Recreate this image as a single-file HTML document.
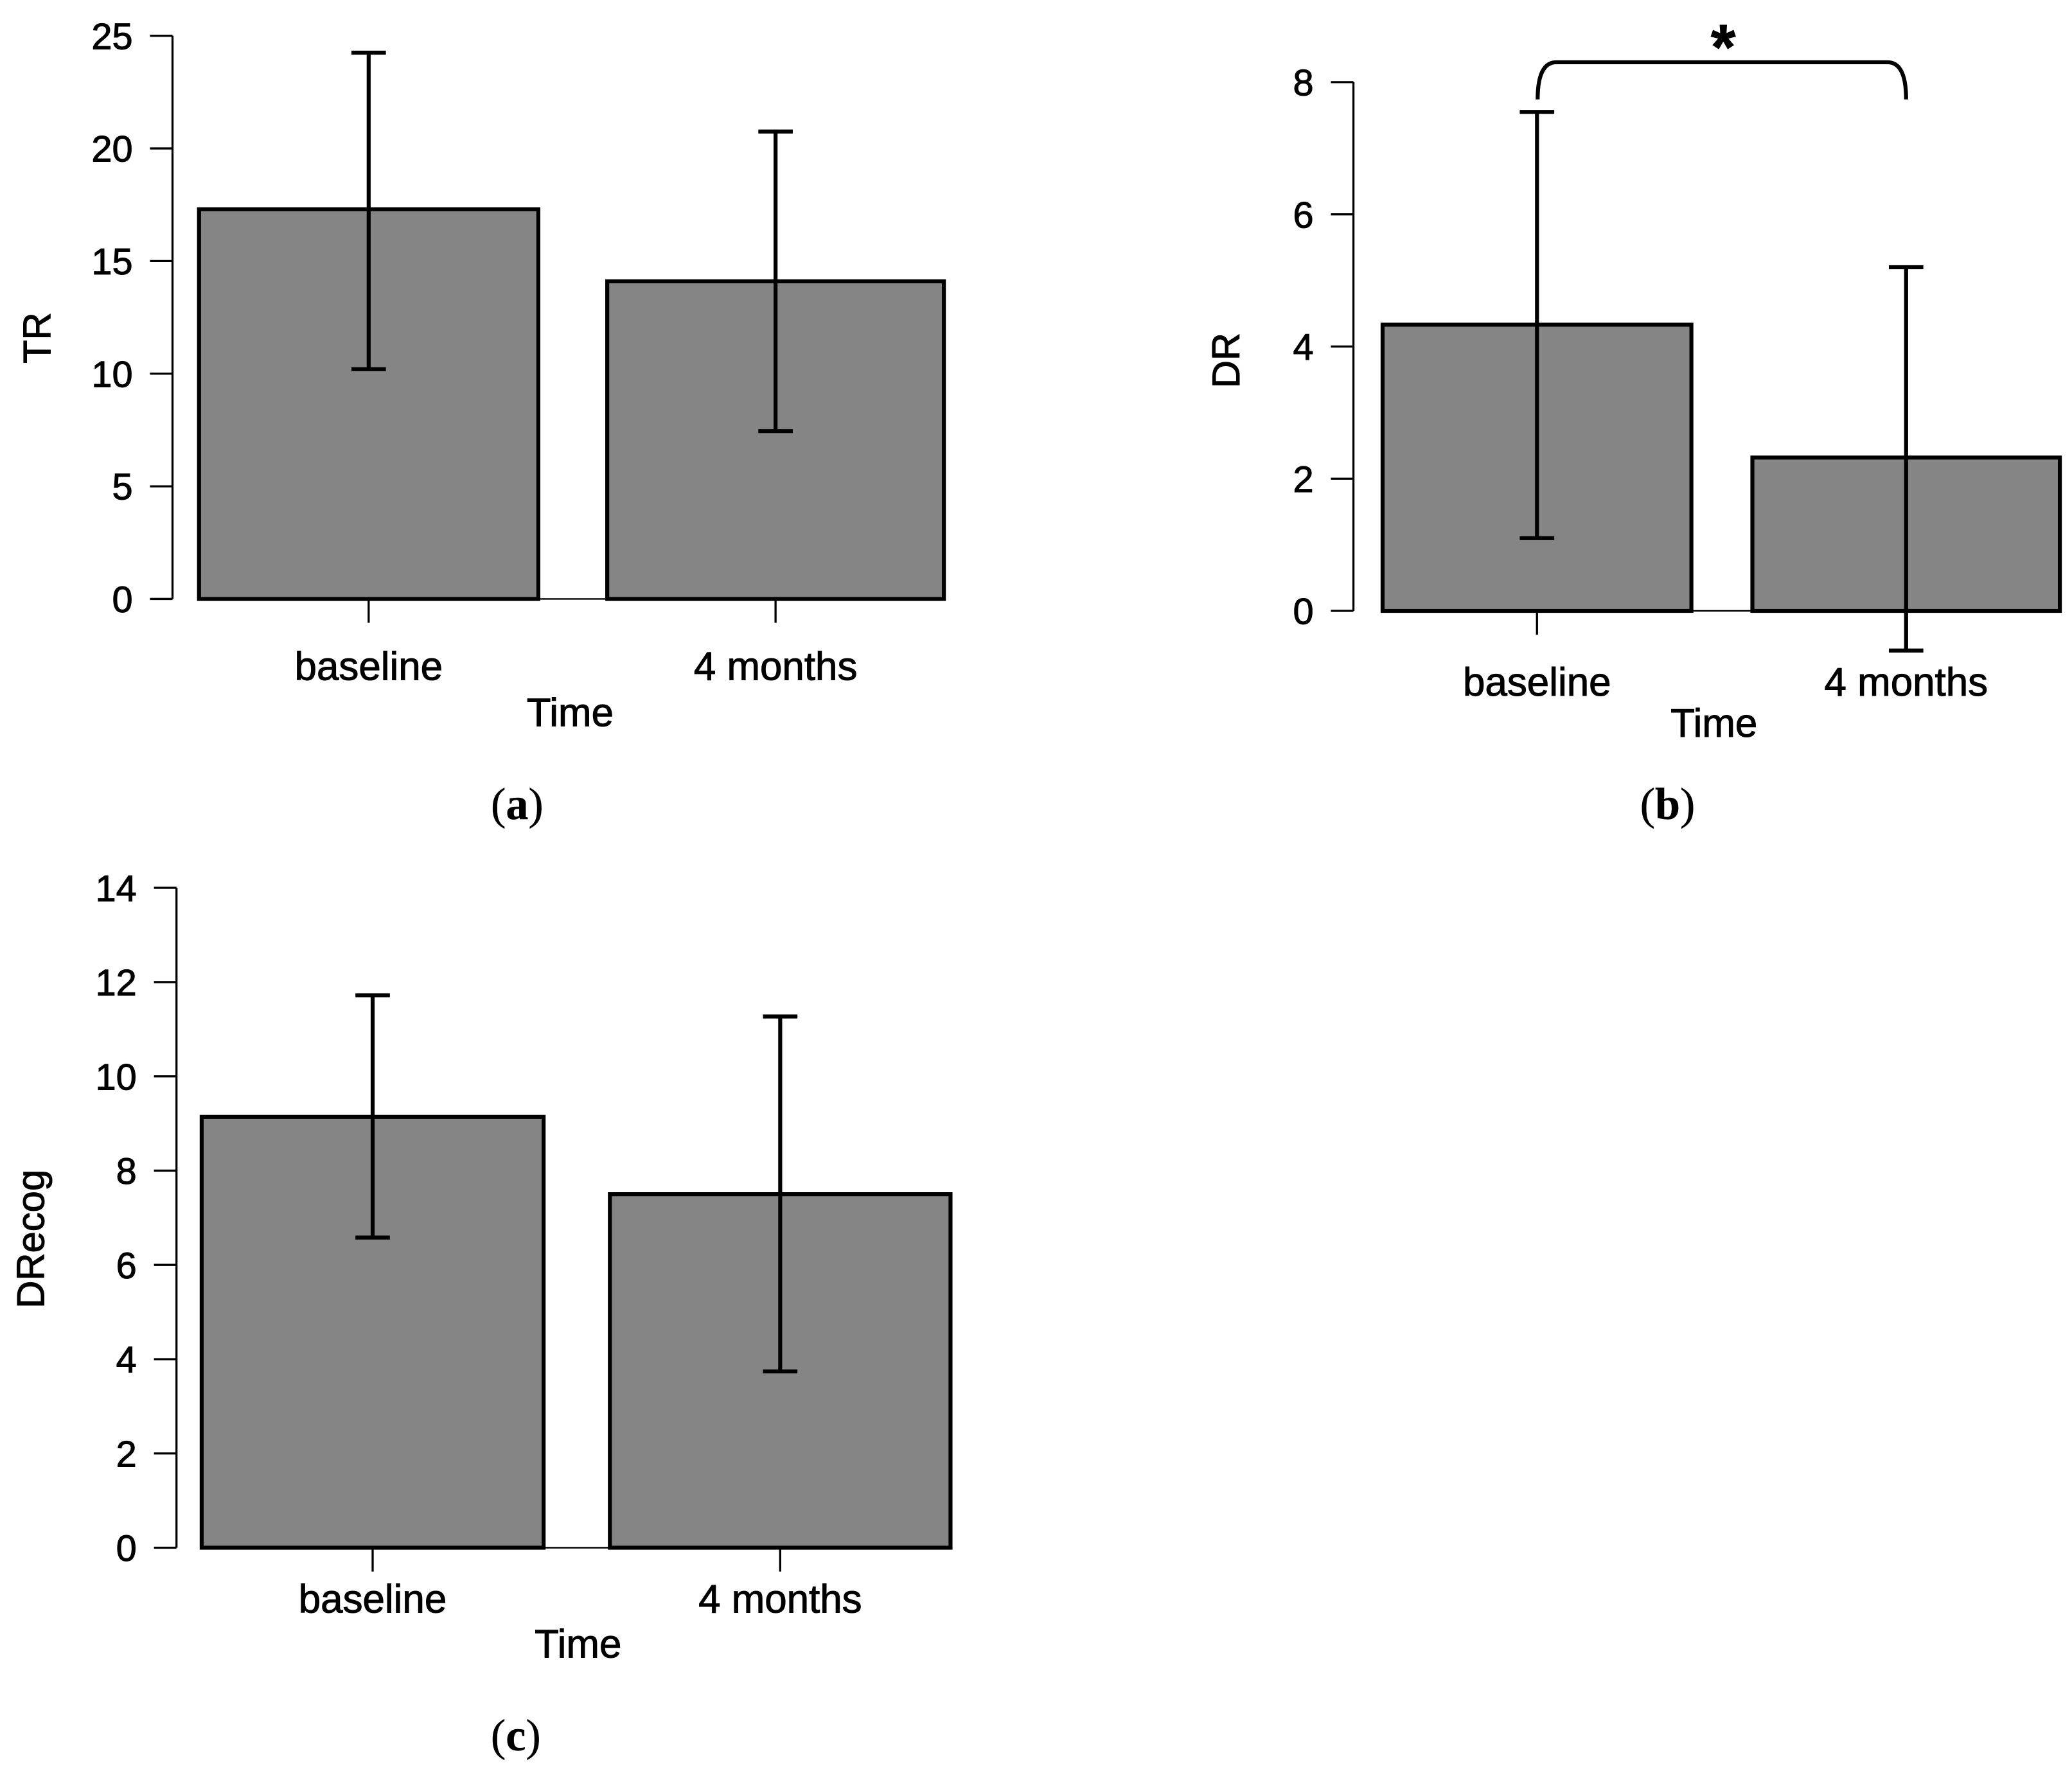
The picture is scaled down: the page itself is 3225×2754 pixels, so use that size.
<!DOCTYPE html>
<html><head><meta charset="utf-8"><style>
html,body{margin:0;padding:0;background:#fff;}
svg{display:block;}
text{font-family:"Liberation Sans",Arial,sans-serif;fill:#000;stroke:#000;stroke-width:0.5;}
.cap{font-family:"Liberation Serif",serif;stroke-width:0.2;}
</style></head><body>
<svg id="fig" width="3225" height="2754" viewBox="0 0 1563 1335" xmlns="http://www.w3.org/2000/svg"></svg>
<script>
const categories = ["baseline", "4 months"];
const trMeans = [17.3, 14.1];
const trLow = [10.2, 7.45];
const trHigh = [24.25, 20.75];
const trTicks = [0, 5, 10, 15, 20, 25];
const drMeans = [4.33, 2.32];
const drLow = [1.1, -0.6];
const drHigh = [7.55, 5.2];
const drTicks = [0, 2, 4, 6, 8];
const dcMeans = [9.14, 7.5];
const dcLow = [6.58, 3.74];
const dcHigh = [11.72, 11.27];
const dcTicks = [0, 2, 4, 6, 8, 10, 12, 14];

const NS = "http://www.w3.org/2000/svg";
const svg = document.getElementById('fig');
function mk(tag, attrs, parent, txt){
  const e = document.createElementNS(NS, tag);
  for (const k in attrs) e.setAttribute(k, attrs[k]);
  if (txt !== undefined) e.textContent = txt;
  (parent || svg).appendChild(e);
  return e;
}

function panel(cfg){
  const g = mk('g', {});
  
  
  const y = v => cfg.y0 + (cfg.yTop - cfg.y0) * (v - cfg.ticks[0]) / (cfg.ticks[cfg.ticks.length-1] - cfg.ticks[0]);
  const ax = mk('line', {x1: cfg.axX, x2: cfg.axX, y1: y(cfg.ticks[0]), y2: y(cfg.ticks[cfg.ticks.length-1]), stroke: '#000', 'stroke-width': 1.6}, g);
  
  
  cfg.ticks.forEach(t => {
    mk('line', {x1: cfg.axX - 17, x2: cfg.axX, y1: y(t), y2: y(t), stroke: '#000', 'stroke-width': 1.6}, g);
    const tl = mk('text', {x: cfg.axX - 30, y: y(t) + 10, 'font-size': 28, 'text-anchor': 'end'}, g, String(t));
    
    
  });
  mk('line', {x1: cfg.bars[0][0], x2: cfg.bars[1][1], y1: y(0), y2: y(0), stroke: '#000', 'stroke-width': 1.2}, g);
  const yt = mk('text', {x: 0, y: 0, 'font-size': 29, 'text-anchor': 'middle', transform: `translate(${cfg.ylabX},${cfg.ylabY}) rotate(-90)`}, g, cfg.ylabel);
  
  
  categories.forEach((c, i) => {
    const [x0, x1] = cfg.bars[i];
    const cx = (x0 + x1) / 2;
    const r = mk('rect', {x: x0, y: y(cfg.means[i]), width: x1 - x0, height: y(0) - y(cfg.means[i]), fill: '#858585', stroke: '#000', 'stroke-width': 3}, g);
    
    
    const eb = mk('g', {stroke: '#000', 'stroke-width': 3}, g);
    
    
    mk('line', {x1: cx, x2: cx, y1: y(cfg.low[i]), y2: y(cfg.high[i])}, eb);
    mk('line', {x1: cx - 13, x2: cx + 13, y1: y(cfg.low[i]), y2: y(cfg.low[i])}, eb);
    mk('line', {x1: cx - 13, x2: cx + 13, y1: y(cfg.high[i]), y2: y(cfg.high[i])}, eb);
    mk('line', {x1: cx, x2: cx, y1: y(0), y2: y(0) + 18, stroke: '#000', 'stroke-width': 1.6}, g);
    const xl = mk('text', {x: cx, y: cfg.xlabY, 'font-size': 30, 'text-anchor': 'middle'}, g, c);
    
    
  });
  const xt = mk('text', {x: cfg.timeX, y: cfg.timeY, 'font-size': 30, 'text-anchor': 'middle'}, g, 'Time');
  
  
  const cap = mk('text', {x: cfg.capX, y: cfg.capY, 'font-size': 34, 'text-anchor': 'middle', class: 'cap'}, g);
  
  
  mk('tspan', {}, cap, '(');
  mk('tspan', {'font-weight': 'bold'}, cap, cfg.letter);
  mk('tspan', {}, cap, ')');
  return {g, y};
}

panel({name: 'panel-a-tr', ticks: trTicks, y0: 452, yTop: 27, axX: 130, bars: [[150, 406], [458, 712]], means: trMeans, low: trLow, high: trHigh, ylabel: 'TR', ylabX: 38, ylabY: 255, xlabY: 513, timeX: 430, timeY: 548, capX: 390, capY: 618, letter: 'a'});
panel({name: 'panel-b-dr', ticks: drTicks, y0: 461, yTop: 62, axX: 1021, bars: [[1043, 1276], [1322, 1554]], means: drMeans, low: drLow, high: drHigh, ylabel: 'DR', ylabX: 935, ylabY: 272, xlabY: 525, timeX: 1293, timeY: 556, capX: 1258, capY: 618, letter: 'b'});
panel({name: 'panel-c-drecog', ticks: dcTicks, y0: 1168, yTop: 670, axX: 133, bars: [[152, 410], [460, 717]], means: dcMeans, low: dcLow, high: dcHigh, ylabel: 'DRecog', ylabX: 33, ylabY: 935, xlabY: 1217, timeX: 436, timeY: 1251, capX: 389, capY: 1321, letter: 'c'});

const br = mk('path', {d: 'M1160,75 Q1160,47 1174,47 L1424,47 Q1438,47 1438,75', fill: 'none', stroke: '#000', 'stroke-width': 3});


const st = mk('text', {x: 1300, y: 52, 'font-size': 48, 'font-weight': 'bold', 'text-anchor': 'middle'}, svg, '*');


</script>
</body></html>
